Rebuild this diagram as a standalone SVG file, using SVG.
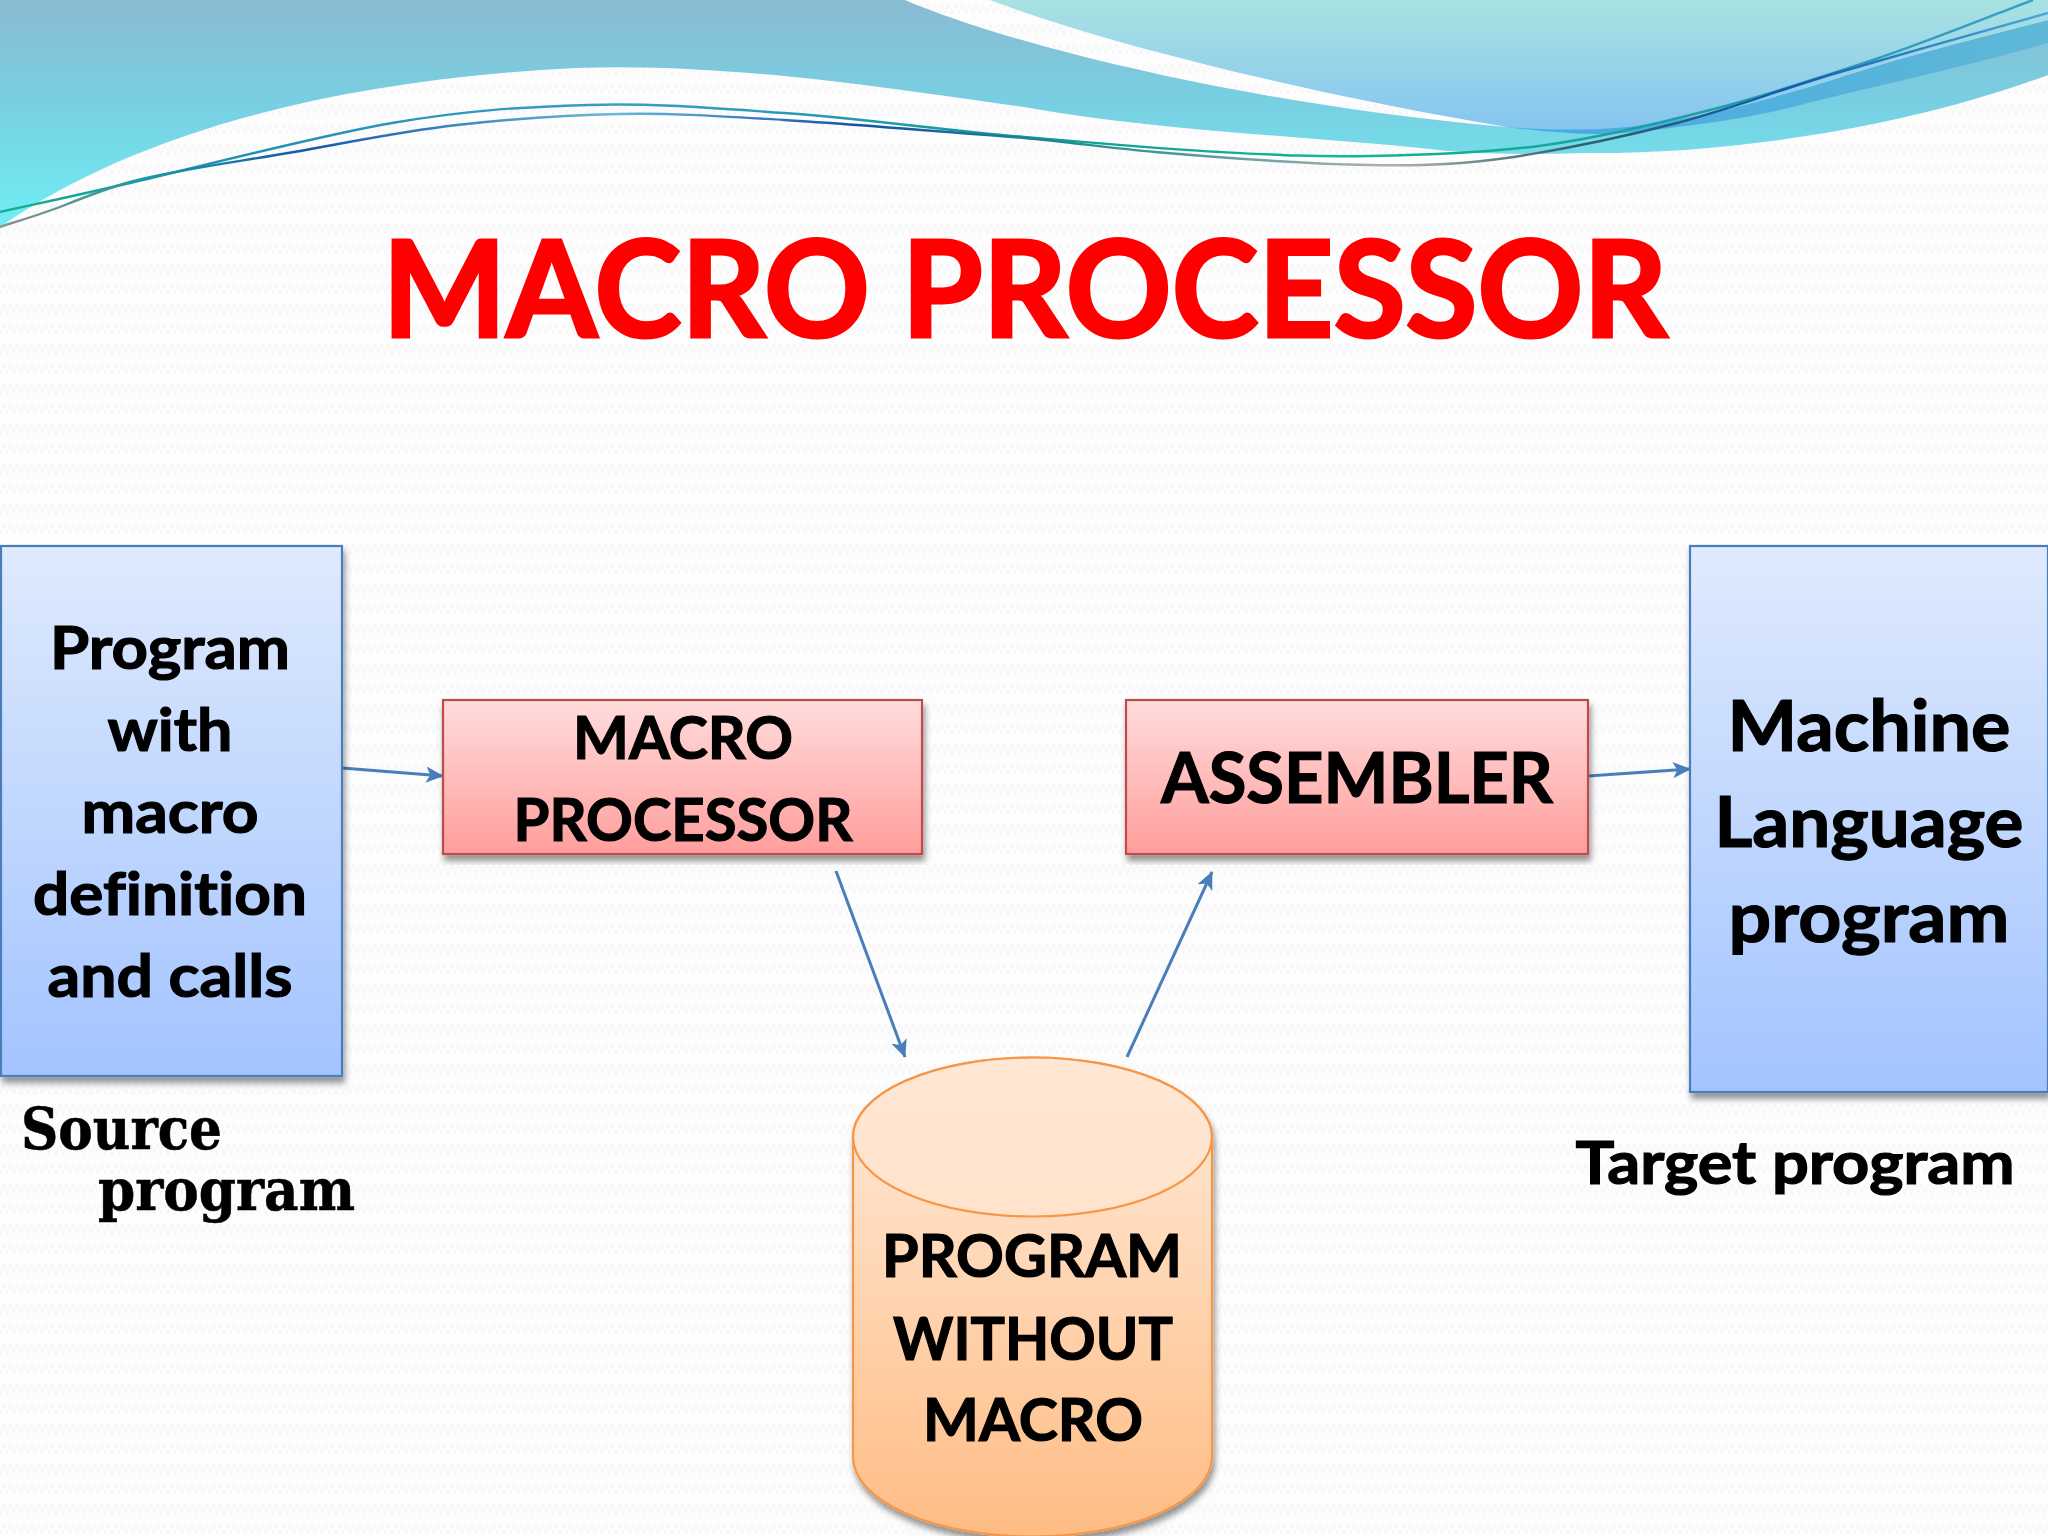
<svg xmlns="http://www.w3.org/2000/svg" width="2048" height="1536" viewBox="0 0 2048 1536">
<style>
text{font-family:"Lato","Carlito","Open Sans",sans-serif;font-weight:700;fill:#000;stroke:#000;stroke-width:1.2;text-anchor:middle;font-variant-ligatures:none}
.t60{font-size:60px}.t68{font-size:70px}
.title{fill:#f00;stroke:#f00;stroke-width:3;font-size:134px}
.serif{font-family:"DejaVu Serif","Liberation Serif",serif;font-size:58px;text-anchor:start;stroke-width:.6}
.conn{fill:none;stroke:#4a7ebb;stroke-width:3;marker-end:url(#arr)}
.wave{fill:none;stroke-width:2.4}
</style>
<defs>
<pattern id="tex" width="14" height="20" patternUnits="userSpaceOnUse"><path d="M0,14 L3.500,4 L7,14 L10.500,4 L14,14" fill="none" stroke="#f4f4f7" stroke-width="1"/></pattern>
<linearGradient id="gA" x1="0" y1="0" x2="0" y2="1"><stop offset="0" stop-color="#8abbd2"/><stop offset=".45" stop-color="#78cfe2"/><stop offset="1" stop-color="#70eef4"/></linearGradient>
<linearGradient id="gB" x1="0" y1="0" x2="0" y2="1"><stop offset="0" stop-color="#a9e2e2"/><stop offset="1" stop-color="#86c5f0"/></linearGradient>
<linearGradient id="gC" x1="0" y1="0" x2="1" y2="0"><stop offset="0" stop-color="#45a9e4"/><stop offset="1" stop-color="#5fb8d6"/></linearGradient>
<linearGradient id="gBlue" x1="0" y1="0" x2="0" y2="1"><stop offset="0" stop-color="#dfeafd"/><stop offset="1" stop-color="#a3c4ff"/></linearGradient>
<linearGradient id="gRed" x1="0" y1="0" x2="0" y2="1"><stop offset="0" stop-color="#ffdcdc"/><stop offset="1" stop-color="#ff9e9c"/></linearGradient>
<linearGradient id="gOr" x1="0" y1="0" x2="0" y2="1"><stop offset="0" stop-color="#ffecdc"/><stop offset="1" stop-color="#ffbc84"/></linearGradient>
<linearGradient id="wA" gradientUnits="userSpaceOnUse" x1="0" y1="0" x2="2048" y2="0"><stop offset="0" stop-color="#12b08e"/><stop offset=".1" stop-color="#1f8fb0"/><stop offset=".3" stop-color="#3c9cc4"/><stop offset=".5" stop-color="#0f9a9a"/><stop offset=".65" stop-color="#10b88e"/><stop offset=".8" stop-color="#1a9f9e"/><stop offset="1" stop-color="#3a9fc8"/></linearGradient>
<linearGradient id="wB" gradientUnits="userSpaceOnUse" x1="0" y1="0" x2="2048" y2="0"><stop offset="0" stop-color="#909090"/><stop offset=".07" stop-color="#1a9aa0"/><stop offset=".15" stop-color="#1558a8"/><stop offset=".3" stop-color="#6cb8d8"/><stop offset=".42" stop-color="#1450a8"/><stop offset=".52" stop-color="#208a90"/><stop offset=".68" stop-color="#b0b0b0"/><stop offset=".77" stop-color="#30606a"/><stop offset=".87" stop-color="#1458b0"/><stop offset="1" stop-color="#48aad8"/></linearGradient>
<marker id="arr" viewBox="0 0 10 10" refX="9.500" refY="5" markerWidth="6" markerHeight="6" orient="auto"><path d="M0,0.500 L10,5 L0,9.500 L2.400,5 Z" fill="#4a7ebb"/></marker>
<filter id="sh" x="-5%" y="-5%" width="112%" height="112%"><feDropShadow dx="2" dy="6" stdDeviation="3" flood-color="#000" flood-opacity=".42"/></filter>
</defs>
<rect width="2048" height="1536" fill="#fdfdfd"/>
<rect width="2048" height="1536" fill="url(#tex)"/>
<g id="background-waves">
<path fill="url(#gA)" d="M0,0 H905 C1010,45 1250,105 1507,127 L1800,90 L2048,43 V75 C1900,130 1720,155 1579,153 C1530,155 1470,154 1430,149 C1290,135 1150,130 1024,107 C900,90 730,62 575,68 C340,80 140,130 0,227 Z"/>
<path fill="url(#gB)" d="M990,0 C1100,42 1300,92 1507,127 C1540,130 1570,130 1599,129 C1640,127 1680,120 1716,112 C1770,100 1825,82 1873,67 C1930,50 1990,35 2048,20 V0 Z"/>
<path fill="url(#gC)" d="M1507,127 C1540,130 1570,130 1599,129 C1640,127 1680,120 1716,112 C1770,100 1825,82 1873,67 C1930,50 1990,35 2048,20 V43 C1960,68 1880,85 1808,103 C1760,116 1720,122 1677,127 C1640,132 1620,134 1599,134 C1570,134 1540,131 1507,127 Z"/>
<path class="wave" stroke="url(#wA)" d="M0,212 C22,207 65,198 130,183 C195,168 316,136 392,123 C468,110 523,107 588,105 C653,103 711,108 784,113 C857,118 951,131 1024,137 C1097,143 1162,149 1220,152 C1278,155 1316,157 1370,156 C1424,155 1489,153 1546,145 C1603,137 1656,124 1710,110 C1764,96 1819,78 1873,60 C1927,42 2006,10 2033,0"/>
<path class="wave" stroke="url(#wB)" d="M0,227 C11,223 43,214 65,205 C85,197 108,188 130,182 C168,171 240,161.500 294,152 C348,142.500 403,131 457,125 C511,119 565.500,115 620,114 C674.500,113 717,116 784,120 C851,124 985,135 1024,138 C1065,141.500 1110,148 1155,152 C1213,157 1310,164 1370,165 C1430,166 1463,164 1514,157 C1565,149 1623,137 1677,123 C1731,109 1778,90 1840,72 C1902,54 2013,23 2048,13"/>
</g>
<g id="title"><text class="title" x="1025" y="337" textLength="1285" lengthAdjust="spacingAndGlyphs">MACRO PROCESSOR</text></g>
<g id="connectors">
<line class="conn" x1="342" y1="768" x2="443" y2="776"/>
<line class="conn" x1="1588" y1="776" x2="1690" y2="769"/>
<line class="conn" x1="836" y1="871" x2="905" y2="1057"/>
<line class="conn" x1="1127" y1="1057" x2="1212" y2="872"/>
</g>
<g id="node-source">
<rect x="1" y="546" width="341" height="530" fill="url(#gBlue)" stroke="#4a7ebb" stroke-width="2.200" filter="url(#sh)"/>
<text class="t60" x="170" y="669" textLength="240" lengthAdjust="spacingAndGlyphs">Program</text>
<text class="t60" x="170" y="751" textLength="125" lengthAdjust="spacingAndGlyphs">with</text>
<text class="t60" x="170" y="833" textLength="177" lengthAdjust="spacingAndGlyphs">macro</text>
<text class="t60" x="170" y="915" textLength="274" lengthAdjust="spacingAndGlyphs">definition</text>
<text class="t60" x="170" y="997" textLength="245" lengthAdjust="spacingAndGlyphs">and calls</text>
</g>
<g id="label-source">
<text class="serif" x="21" y="1149" textLength="201" lengthAdjust="spacingAndGlyphs">Source</text>
<text class="serif" x="98" y="1210" textLength="257" lengthAdjust="spacingAndGlyphs">program</text>
</g>
<g id="node-macro-processor">
<rect x="443" y="700" width="479" height="154" fill="url(#gRed)" stroke="#be4b48" stroke-width="2.200" filter="url(#sh)"/>
<text class="t60" x="683" y="759" textLength="220" lengthAdjust="spacingAndGlyphs">MACRO</text>
<text class="t60" x="683" y="841" textLength="339" lengthAdjust="spacingAndGlyphs">PROCESSOR</text>
</g>
<g id="node-assembler">
<rect x="1126" y="700" width="462" height="154" fill="url(#gRed)" stroke="#be4b48" stroke-width="2.200" filter="url(#sh)"/>
<text class="t68" x="1357" y="803" textLength="392" lengthAdjust="spacingAndGlyphs">ASSEMBLER</text>
</g>
<g id="node-machine">
<rect x="1690" y="546" width="358" height="546" fill="url(#gBlue)" stroke="#4a7ebb" stroke-width="2.200" filter="url(#sh)"/>
<text class="t68" x="1869" y="751" textLength="283" lengthAdjust="spacingAndGlyphs">Machine</text>
<text class="t68" x="1869" y="847" textLength="309" lengthAdjust="spacingAndGlyphs">Language</text>
<text class="t68" x="1869" y="942" textLength="281" lengthAdjust="spacingAndGlyphs">program</text>
</g>
<g id="label-target">
<text class="t60" x="1795" y="1184" textLength="439" lengthAdjust="spacingAndGlyphs">Target program</text>
</g>
<g id="node-cylinder">
<path d="M853,1137 A179.500,79.500 0 0 1 1212,1137 V1457 A179.500,79.500 0 0 1 853,1457 Z" fill="url(#gOr)" stroke="#f79646" stroke-width="2.200" filter="url(#sh)"/>
<ellipse cx="1032.500" cy="1137" rx="179.500" ry="79.500" fill="#ffe6d2" fill-opacity=".7" stroke="#f79646" stroke-width="2.200"/>
<text class="t60" x="1032" y="1277" textLength="300" lengthAdjust="spacingAndGlyphs">PROGRAM</text>
<text class="t60" x="1033" y="1360" textLength="280" lengthAdjust="spacingAndGlyphs">WITHOUT</text>
<text class="t60" x="1033" y="1441" textLength="220" lengthAdjust="spacingAndGlyphs">MACRO</text>
</g>
</svg>
